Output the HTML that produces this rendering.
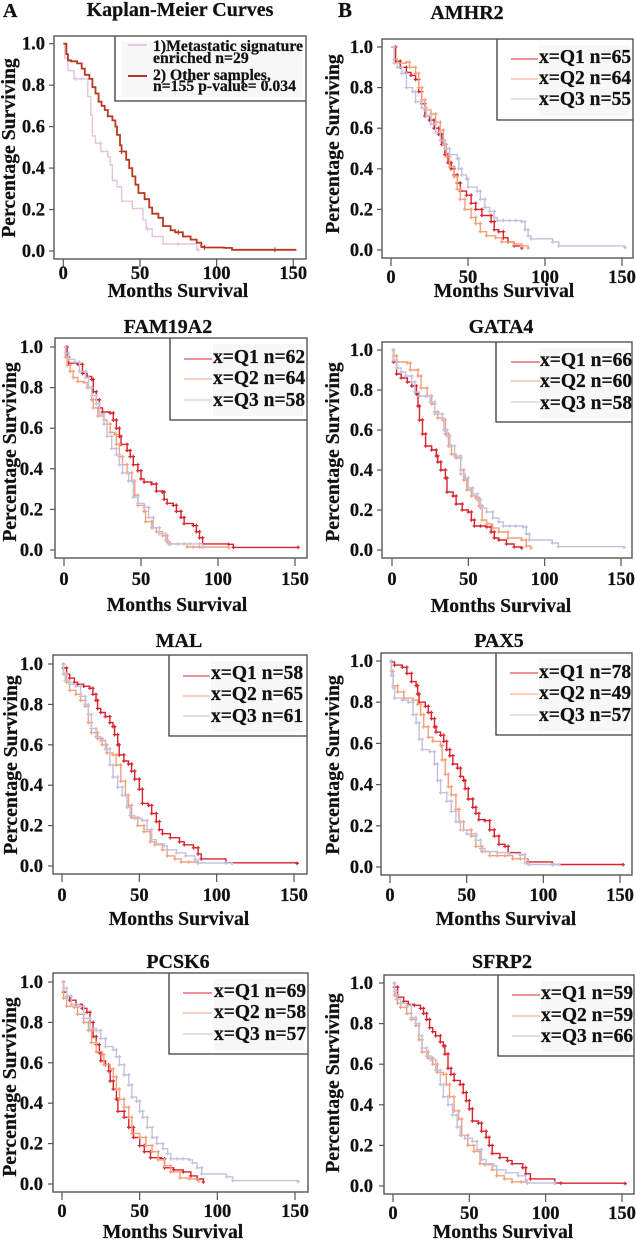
<!DOCTYPE html>
<html lang="en">
<head>
<meta charset="utf-8">
<title>Kaplan-Meier Curves</title>
<style>
html,body{margin:0;padding:0;background:#fff;}
svg{display:block;filter:blur(0.35px);}
text{font-family:"Liberation Serif",serif;font-weight:bold;fill:#111;stroke:#111;stroke-width:0.25px;}
</style>
</head>
<body>
<svg id="figure" xmlns="http://www.w3.org/2000/svg" width="636" height="1240" viewBox="0 0 636 1240">
<rect x="0" y="0" width="636" height="1240" fill="#fff"/>
<text x="3" y="17" font-size="20">A</text>
<text x="338" y="17" font-size="21">B</text>
</svg>
<script>
const xTicks = [0, 50, 100, 150];
const xTickLabels = ['0', '50', '100', '150'];
const yTicks = [0, 0.2, 0.4, 0.6, 0.8, 1];
const yTickLabels = ['0.0', '0.2', '0.4', '0.6', '0.8', '1.0'];

const kmMetMonths = [0,1,3,7,15,16,18,19,21,24.5,29,30.5,32,35,38,45,52,54,58,65,87,88];
const kmMetSurv = [1,.93,.87,.83,.83,.745,.655,.555,.52,.48,.455,.415,.34,.31,.24,.205,.15,.106,.07,.034,.005,.005];
const kmMetCensor = [8,12,24,55,75,88];
const kmOtherMonths = [0,2,3,5,9,12,14,17,19,21,23,25,27,29,32,34,35,37,38,41,43,45,47,49,53,56,58,62,65,70,73,78,83,87,90,92,105,110,152];
const kmOtherSurv = [1,.95,.92,.915,.905,.88,.85,.83,.79,.76,.72,.70,.68,.65,.63,.60,.56,.51,.48,.44,.40,.36,.32,.28,.25,.21,.18,.16,.12,.10,.09,.07,.055,.04,.02,.017,.015,.006,.006];
const kmOtherCensor = [38,75,92,138];

const amhr2Q1Months = [0,3,6,10,13,16,18,20,22,25,28,31,33,35,37,39,41,43,45,49,52,55,59,65,67,70,73,76,80,85];
const amhr2Q1Surv = [1,.93,.90,.875,.86,.84,.78,.72,.66,.64,.60,.57,.52,.47,.43,.40,.37,.33,.29,.27,.23,.20,.17,.14,.10,.09,.06,.04,.02,.01];
const amhr2Q2Months = [0,2,4,10,12,16,18,20,22,26,29,32,34,36,38,41,43,45,48,52,55,58,62,68,72,80,85,89];
const amhr2Q2Surv = [1,.94,.92,.925,.90,.87,.80,.74,.69,.67,.63,.59,.52,.46,.41,.36,.30,.25,.20,.16,.13,.09,.07,.06,.04,.03,.02,.01];
const amhr2Q3Months = [0,2,4,7,10,14,16,20,23,26,29,32,35,38,43,44,46,49,50,56,58,61,64,67,69,73,77,81,85,87,89,91,105,109,152];
const amhr2Q3Surv = [1,.92,.90,.87,.80,.78,.73,.70,.66,.62,.58,.54,.50,.47,.45,.40,.37,.35,.31,.29,.25,.21,.19,.16,.145,.145,.145,.145,.14,.10,.07,.055,.04,.02,.012];

const famQ1Months = [0,2,3,9,12,15,18,19,21,23,25,30,32,34,36,37,41,43,45,48,50,52,57,60,64,65,67,71,73,76,78,84,86,88,90,107,110,152];
const famQ1Surv = [1,.95,.92,.915,.87,.855,.84,.78,.74,.70,.68,.675,.64,.60,.56,.52,.49,.46,.42,.39,.35,.335,.325,.29,.285,.25,.23,.22,.19,.16,.13,.12,.09,.06,.03,.028,.013,.013];
const famQ2Months = [0,1,2,4,6,9,13,15,18,19,22,26,28,30,33,34,36,38,41,44,46,48,52,53,57,60,64,67,69,80,84,88,107];
const famQ2Surv = [1,.95,.91,.88,.85,.83,.825,.80,.74,.70,.66,.64,.62,.58,.57,.52,.46,.42,.38,.34,.27,.22,.19,.14,.11,.09,.07,.04,.03,.015,.015,.015,.012];
const famQ3Months = [0,1,3,7,10,14,16,18,21,23,26,28,31,34,36,38,42,45,48,52,55,58,62,66,68,74,78,82,88,90];
const famQ3Surv = [1,.97,.94,.925,.88,.85,.80,.76,.72,.67,.62,.56,.50,.47,.42,.38,.34,.26,.23,.21,.16,.11,.08,.05,.03,.03,.03,.03,.03,.012];

const gataQ1Months = [0,1,3,6,10,13,16,17,18,20,22,26,29,30,32,35,36,40,42,46,50,52,54,58,62,65,67,70,75,80,85];
const gataQ1Surv = [1,.94,.88,.86,.84,.82,.78,.72,.65,.58,.52,.50,.47,.44,.40,.36,.29,.27,.23,.20,.19,.15,.12,.12,.115,.09,.06,.05,.03,.015,.01];
const gataQ2Months = [0,1,3,10,12,17,19,23,26,28,30,34,35,37,39,42,45,47,49,52,55,57,59,62,66,70,76,85,88,91];
const gataQ2Surv = [1,.97,.94,.935,.90,.87,.81,.77,.73,.69,.66,.65,.58,.52,.48,.46,.40,.35,.30,.27,.26,.22,.15,.13,.11,.09,.06,.05,.02,.01];
const gataQ3Months = [0,1,3,6,9,13,15,18,22,25,28,33,34,36,38,41,45,48,50,53,56,58,62,66,70,73,77,81,86,88,90,105,109,152];
const gataQ3Surv = [1,.95,.91,.89,.87,.84,.79,.77,.77,.74,.68,.65,.60,.57,.52,.47,.38,.36,.31,.28,.25,.21,.19,.16,.14,.12,.12,.12,.115,.08,.05,.035,.017,.013];

const malQ1Months = [0,1,3,5,8,10,14,18,20,22,23,25,28,31,33,34,36,37,40,43,45,47,50,52,56,58,61,63,65,70,76,79,85,88,90,106,152];
const malQ1Surv = [1,.98,.95,.93,.91,.90,.89,.88,.85,.82,.78,.76,.74,.71,.69,.65,.60,.55,.52,.505,.47,.43,.38,.31,.30,.26,.22,.18,.16,.14,.12,.105,.09,.06,.035,.016,.013];
const malQ2Months = [0,1,3,5,9,12,15,17,19,23,26,29,33,35,38,41,43,45,49,53,57,60,65,68,73,77,82,88];
const malQ2Surv = [1,.95,.91,.87,.85,.82,.79,.71,.66,.63,.60,.56,.55,.50,.42,.35,.30,.24,.20,.17,.12,.105,.08,.05,.035,.02,.02,.015];
const malQ3Months = [0,1,2,5,9,12,15,17,19,22,25,28,31,33,36,39,42,44,47,52,55,58,61,66,68,74,80,86,88,106,110];
const malQ3Surv = [1,.95,.92,.90,.89,.84,.80,.75,.68,.64,.62,.58,.50,.44,.39,.35,.29,.25,.235,.225,.18,.13,.11,.10,.08,.065,.05,.03,.015,.015,.012];

const paxQ1Months = [0,1,3,8,11,14,17,18,19,23,25,27,29,30,33,35,37,39,41,44,46,48,49,51,54,56,58,62,65,68,71,75,77,85,88,90,106,152];
const paxQ1Surv = [1,.995,.98,.97,.94,.90,.88,.84,.80,.78,.75,.72,.68,.655,.64,.61,.57,.54,.50,.48,.44,.42,.38,.33,.29,.26,.23,.225,.18,.15,.11,.10,.07,.06,.04,.025,.012,.011];
const paxQ2Months = [0,1,2,5,9,15,18,20,22,25,28,33,34,36,38,40,43,45,48,53,56,60,65,70,75,80,85,90];
const paxQ2Surv = [1,.95,.88,.85,.82,.81,.79,.74,.68,.63,.61,.59,.52,.45,.39,.35,.28,.22,.18,.15,.10,.075,.055,.055,.055,.04,.04,.015];
const paxQ3Months = [0,1,2,3,8,12,15,17,19,21,26,29,31,33,37,40,43,46,50,56,59,62,70,78,85,88,91,106,110];
const paxQ3Surv = [1,.93,.87,.82,.81,.80,.74,.70,.62,.57,.56,.50,.42,.36,.32,.27,.22,.18,.16,.13,.09,.075,.07,.065,.06,.02,.012,.012,.012];

const pcskQ1Months = [0,1,3,5,9,13,16,18,20,22,24,25,28,30,31,33,35,36,40,43,46,50,53,57,64,66,72,78,83,87,91];
const pcskQ1Surv = [1,.95,.93,.91,.89,.87,.85,.80,.73,.69,.65,.61,.59,.56,.51,.47,.42,.36,.33,.28,.23,.19,.16,.13,.125,.08,.07,.06,.04,.025,.01];
const pcskQ2Months = [0,1,3,8,10,14,17,19,22,26,27,31,33,35,37,40,43,45,50,54,58,62,66,70,76,82,88];
const pcskQ2Surv = [1,.92,.88,.875,.84,.80,.76,.70,.655,.64,.59,.57,.53,.47,.42,.38,.33,.25,.23,.19,.16,.12,.09,.06,.03,.025,.015];
const pcskQ3Months = [0,1,3,6,11,14,18,22,25,28,33,35,37,40,43,45,48,50,52,55,58,61,65,68,70,74,78,82,84,87,90,106,110,152];
const pcskQ3Surv = [1,.97,.93,.89,.88,.82,.77,.76,.72,.68,.665,.63,.59,.54,.49,.43,.41,.36,.33,.28,.23,.20,.175,.15,.125,.125,.125,.12,.105,.08,.05,.035,.017,.012];

const sfrpQ1Months = [0,1,3,7,10,14,18,20,22,24,26,28,31,33,34,36,38,40,44,46,48,50,52,56,58,61,63,65,70,75,78,85,87,90,106,110,152];
const sfrpQ1Surv = [1,.98,.93,.91,.895,.89,.875,.85,.82,.78,.76,.74,.71,.69,.65,.58,.55,.52,.50,.46,.42,.38,.32,.31,.27,.24,.20,.16,.14,.125,.11,.09,.06,.035,.015,.014,.012];
const sfrpQ2Months = [0,1,3,5,9,12,15,17,19,23,26,29,33,35,37,40,43,45,49,53,57,60,65,68,73,78,84,88];
const sfrpQ2Surv = [1,.94,.90,.88,.85,.82,.79,.72,.66,.63,.60,.56,.55,.50,.44,.37,.33,.25,.20,.17,.11,.105,.08,.05,.035,.02,.02,.015];
const sfrpQ3Months = [0,1,2,5,9,12,15,17,19,22,25,28,31,33,36,39,42,44,47,52,55,58,61,66,68,74,82,87,88,106];
const sfrpQ3Surv = [1,.96,.92,.90,.89,.83,.80,.74,.68,.64,.62,.57,.50,.44,.40,.35,.29,.25,.235,.22,.18,.13,.11,.10,.08,.065,.05,.03,.015,.014];

const Q1_COLOR = '#d8232e';
const Q2_COLOR = '#f3a07c';
const Q3_COLOR = '#c4c0dc';
const NS = 'http://www.w3.org/2000/svg';
const root = document.getElementById('figure');

function add(parent, tag, attrs, name, text) {
  const el = document.createElementNS(NS, tag);
  for (const k in attrs) el.setAttribute(k, attrs[k]);
  
  
  if (text !== undefined) el.textContent = text;
  parent.appendChild(el);
  return el;
}

function q(label, months, surv, color) {
  return { label, months, surv, color, width: 1.4, mark: 1.8, markWidth: 1.2 };
}

function drawPanel(p) {
  const id = p.id;
  const g = add(root, 'g', {}, id + '-panel');
  const X = t => p.x0 + t * (p.x150 - p.x0) / 150;
  const Y = s => p.y0 + s * (p.y1 - p.y0);

  add(g, 'text', { x: p.titleX, y: p.titleY, 'font-size': 20, 'text-anchor': 'middle' }, id + '-title', p.title);

  for (const s of p.series) {
    const sid = id + '-' + s.key;
    let d = 'M' + X(s.months[0]).toFixed(1) + ' ' + Y(s.surv[0]).toFixed(1);
    for (let i = 1; i < s.months.length; i++) {
      d += 'H' + X(s.months[i]).toFixed(1) + 'V' + Y(s.surv[i]).toFixed(1);
    }
    add(g, 'path', { d, fill: 'none', stroke: s.color, 'stroke-width': s.width }, sid + '-curve');
    let m = '';
    const plus = (x, y) => {
      m += 'M' + (x - s.mark).toFixed(1) + ' ' + y.toFixed(1) + 'h' + (2 * s.mark) + 'M' + x.toFixed(1) + ' ' + (y - s.mark).toFixed(1) + 'v' + (2 * s.mark);
    };
    if (s.censor) {
      for (const t of s.censor) {
        let i = 0;
        while (i + 1 < s.months.length && s.months[i + 1] <= t) i++;
        plus(X(t), Y(s.surv[i]));
      }
    } else {
      for (let i = 1; i < s.months.length; i++) {
        plus(X(s.months[i]), Y(s.surv[i]));
        if (s.surv[i - 1] - s.surv[i] > 0.025) plus(X(s.months[i]), Y(s.surv[i - 1]));
      }
    }
    add(g, 'path', { d: m, fill: 'none', stroke: s.color, 'stroke-width': s.markWidth }, sid + '-censor-marks');
  }

  const lg = add(g, 'g', {}, id + '-legend');
  add(lg, 'rect', { x: p.legendX, y: p.boxT, width: p.boxR - p.legendX, height: p.legendB - p.boxT, fill: '#fff' }, id + '-legend-background');
  add(lg, 'rect', { x: p.patchX, y: p.boxT + 6, width: p.boxR - p.patchX - 4, height: p.legendB - p.boxT - 10, fill: '#f7f7f7' }, id + '-legend-patch');
  add(lg, 'path', { d: 'M' + p.legendX + ' ' + p.boxT + 'V' + p.legendB + 'H' + p.boxR, fill: 'none', stroke: '#3a3a3a', 'stroke-width': 1.3 }, id + '-legend-border');
  p.legendRows.forEach((r, i) => {
    const s = p.series[i];
    add(lg, 'line', { x1: p.lineX1, x2: p.lineX2, y1: r.lineY, y2: r.lineY, stroke: s.color, 'stroke-width': s.legendWidth || 1.1 }, id + '-legend-swatch-' + s.key);
    r.lines.forEach((ln, j) => {
      add(lg, 'text', { x: p.textX, y: ln.y, 'font-size': p.legendFont }, id + '-legend-label-' + s.key + '-' + (j + 1), ln.text);
    });
  });

  add(g, 'rect', { x: p.boxL, y: p.boxT, width: p.boxR - p.boxL, height: p.boxB - p.boxT, fill: 'none', stroke: '#555', 'stroke-width': 1.4 }, id + '-plot-box');

  const xa = add(g, 'g', {}, id + '-x-axis');
  xTicks.forEach((t, i) => {
    add(xa, 'line', { x1: X(t), x2: X(t), y1: p.boxB, y2: p.boxB + 8, stroke: '#555', 'stroke-width': 1.2 }, id + '-x-tick-' + t);
    add(xa, 'text', { x: X(t), y: p.xLabelY, 'font-size': 18.5, 'text-anchor': 'middle' }, id + '-x-tick-label-' + t, xTickLabels[i]);
  });
  add(xa, 'text', { x: p.xTitleX, y: p.xTitleY, 'font-size': 19.7, 'text-anchor': 'middle' }, id + '-x-axis-title', 'Months Survival');

  const ya = add(g, 'g', {}, id + '-y-axis');
  yTicks.forEach((v, i) => {
    add(ya, 'line', { x1: p.boxL - 5, x2: p.boxL, y1: Y(v), y2: Y(v), stroke: '#555', 'stroke-width': 1.2 }, id + '-y-tick-' + yTickLabels[i]);
    add(ya, 'text', { x: p.yLabelX, y: Y(v) + 6, 'font-size': 18.5, 'text-anchor': 'end' }, id + '-y-tick-label-' + yTickLabels[i], yTickLabels[i]);
  });
  add(ya, 'text', { transform: 'translate(' + p.yTitleX + ' ' + p.yTitleY + ') rotate(-90)', 'font-size': 19.7, 'text-anchor': 'middle' }, id + '-y-axis-title', 'Percentage Surviving');
}

function qPanel(id, title, n, data, g) {
  drawPanel(Object.assign({
    id, title, legendFont: 19.5,
    series: [
      Object.assign(q('Q1', data[0], data[1], Q1_COLOR), { key: 'q1' }),
      Object.assign(q('Q2', data[2], data[3], Q2_COLOR), { key: 'q2' }),
      Object.assign(q('Q3', data[4], data[5], Q3_COLOR), { key: 'q3' })
    ],
    patchX: g.textX,
    legendRows: [0, 1, 2].map(i => ({
      lineY: g.lineYs[i],
      lines: [{ y: g.textYs[i], text: 'x=Q' + (i + 1) + ' n=' + n[i] }]
    }))
  }, g));
}

drawPanel({
  id: 'survival-overview', title: 'Kaplan-Meier Curves',
  titleX: 180, titleY: 16,
  boxL: 54, boxR: 306, boxT: 36, boxB: 259,
  x0: 63.3, x150: 293.3, y0: 251, y1: 43.7,
  xLabelY: 279, xTitleX: 178, xTitleY: 297, yLabelX: 45, yTitleX: 15, yTitleY: 148,
  legendX: 115, legendB: 101, patchX: 122, lineX1: 128, lineX2: 147, textX: 153, legendFont: 15.7,
  series: [
    { key: 'metastatic', months: kmMetMonths, surv: kmMetSurv, censor: kmMetCensor, color: '#e3c3dd', width: 1.4, mark: 2.5, markWidth: 1, legendWidth: 1.8 },
    { key: 'other', months: kmOtherMonths, surv: kmOtherSurv, censor: kmOtherCensor, color: '#b8381f', width: 1.8, mark: 2.5, markWidth: 1, legendWidth: 2 }
  ],
  legendRows: [
    { lineY: 45, lines: [{ y: 51, text: '1)Metastatic signature' }, { y: 63, text: 'enriched n=29' }] },
    { lineY: 76, lines: [{ y: 80, text: '2) Other samples,' }, { y: 91, text: 'n=155 p-value= 0.034' }] }
  ]
});

qPanel('amhr2', 'AMHR2', [65, 64, 55], [amhr2Q1Months, amhr2Q1Surv, amhr2Q2Months, amhr2Q2Surv, amhr2Q3Months, amhr2Q3Surv], {
  titleX: 467, titleY: 19, boxL: 382, boxR: 633, boxT: 39, boxB: 258,
  x0: 391, x150: 622, y0: 250, y1: 47,
  xLabelY: 283, xTitleX: 504, xTitleY: 297, yLabelX: 373, yTitleX: 339, yTitleY: 144,
  legendX: 497, legendB: 120, lineX1: 511, lineX2: 538, textX: 539,
  lineYs: [59, 79, 99], textYs: [63, 84, 105]
});
qPanel('fam19a2', 'FAM19A2', [62, 64, 58], [famQ1Months, famQ1Surv, famQ2Months, famQ2Surv, famQ3Months, famQ3Surv], {
  titleX: 168, titleY: 333, boxL: 55, boxR: 307, boxT: 338, boxB: 558,
  x0: 64, x150: 295, y0: 550, y1: 347,
  xLabelY: 585, xTitleX: 177, xTitleY: 611, yLabelX: 43, yTitleX: 16, yTitleY: 452,
  legendX: 170, legendB: 420, lineX1: 184, lineX2: 212, textX: 213,
  lineYs: [359, 379, 400], textYs: [363, 384, 406]
});
qPanel('gata4', 'GATA4', [66, 60, 58], [gataQ1Months, gataQ1Surv, gataQ2Months, gataQ2Surv, gataQ3Months, gataQ3Surv], {
  titleX: 501, titleY: 333, boxL: 382, boxR: 632, boxT: 342, boxB: 558,
  x0: 392, x150: 621, y0: 550, y1: 350,
  xLabelY: 585, xTitleX: 501, xTitleY: 612, yLabelX: 373, yTitleX: 339, yTitleY: 452,
  legendX: 496, legendB: 422, lineX1: 511, lineX2: 540, textX: 540,
  lineYs: [362, 381, 402], textYs: [366, 387, 409]
});
qPanel('mal', 'MAL', [58, 65, 61], [malQ1Months, malQ1Surv, malQ2Months, malQ2Surv, malQ3Months, malQ3Surv], {
  titleX: 179, titleY: 647, boxL: 53, boxR: 307, boxT: 655, boxB: 874,
  x0: 62, x150: 294, y0: 866, y1: 664,
  xLabelY: 901, xTitleX: 179, xTitleY: 925, yLabelX: 43, yTitleX: 17, yTitleY: 765,
  legendX: 169, legendB: 736, lineX1: 183, lineX2: 210, textX: 211,
  lineYs: [676, 696, 716], textYs: [679, 700, 722]
});
qPanel('pax5', 'PAX5', [78, 49, 57], [paxQ1Months, paxQ1Surv, paxQ2Months, paxQ2Surv, paxQ3Months, paxQ3Surv], {
  titleX: 499, titleY: 647, boxL: 381, boxR: 632, boxT: 653, boxB: 875,
  x0: 390, x150: 620, y0: 867, y1: 661,
  xLabelY: 901, xTitleX: 506, xTitleY: 925, yLabelX: 373, yTitleX: 339, yTitleY: 765,
  legendX: 496, legendB: 735, lineX1: 510, lineX2: 538, textX: 539,
  lineYs: [673, 694, 715], textYs: [678, 699, 721]
});
qPanel('pcsk6', 'PCSK6', [69, 58, 57], [pcskQ1Months, pcskQ1Surv, pcskQ2Months, pcskQ2Surv, pcskQ3Months, pcskQ3Surv], {
  titleX: 178, titleY: 968, boxL: 53, boxR: 308, boxT: 973, boxB: 1192,
  x0: 62, x150: 295, y0: 1184, y1: 982,
  xLabelY: 1217, xTitleX: 173, xTitleY: 1238, yLabelX: 43, yTitleX: 16, yTitleY: 1087,
  legendX: 169, legendB: 1054, lineX1: 183, lineX2: 212, textX: 214,
  lineYs: [993, 1013, 1034], textYs: [997, 1018, 1040]
});
qPanel('sfrp2', 'SFRP2', [59, 59, 66], [sfrpQ1Months, sfrpQ1Surv, sfrpQ2Months, sfrpQ2Surv, sfrpQ3Months, sfrpQ3Surv], {
  titleX: 502, titleY: 968, boxL: 384, boxR: 634, boxT: 975, boxB: 1194,
  x0: 393, x150: 622, y0: 1186, y1: 983,
  xLabelY: 1219, xTitleX: 503, xTitleY: 1238, yLabelX: 373, yTitleX: 339, yTitleY: 1083,
  legendX: 498, legendB: 1056, lineX1: 512, lineX2: 540, textX: 541,
  lineYs: [995, 1016, 1036], textYs: [999, 1021, 1042]
});
</script>
</body>
</html>
